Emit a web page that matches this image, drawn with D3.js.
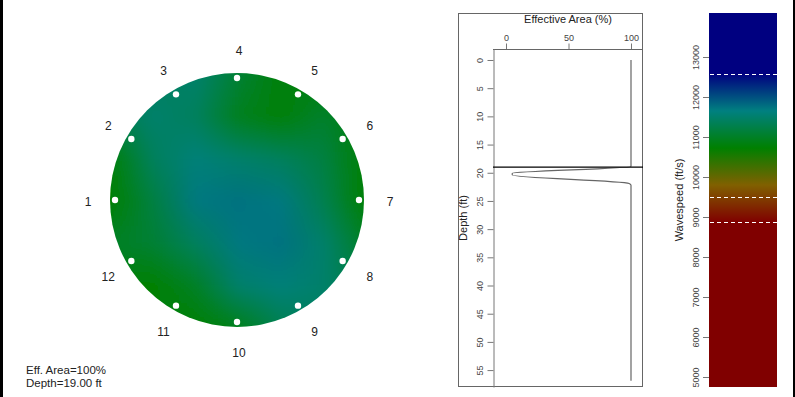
<!DOCTYPE html>
<meta charset="utf-8" />
<style>
  body {
    margin: 0px;
    background: #fff;
  }
  svg {
    display: block;
  }
  .tick text {
    font-family: "Liberation Sans", Arial, sans-serif;
    font-size: 9px;
    fill: #444;
  }
  .tick line,
  .domain {
    stroke: #777;
  }
</style>
<body>
<script src="https://d3js.org/d3.v7.min.js"></script>
<script>
  var width = 795,
    height = 397;

  // wavespeed field over the pipe cross-section (ft/s), rows top→bottom, cols left→right
  var field = [
    [11300, 11400, 11500, 11100, 10800, 10800, 10750],
    [11300, 11500, 11400, 10950, 10800, 11050, 10800],
    [10800, 11400, 11600, 11500, 11400, 11200, 10750],
    [10750, 11200, 11700, 11750, 11700, 11300, 10750],
    [11000, 11100, 11400, 11700, 11750, 11500, 11000],
    [10750, 10750, 11000, 11500, 11600, 11500, 11200],
    [10750, 10750, 10750, 10900, 11300, 11400, 11300],
  ];

  // sensor numbers, counter-clockwise from left, 30° apart
  var sensors = [1, 2, 3, 4, 5, 6, 7, 8, 9, 10, 11, 12];

  // effective area profile
  var depths = [0, 18.9, 20.1, 20.4, 21.9, 22.2, 56.9];
  var effArea = [100, 100, 5, 5, 98.5, 100, 100];
  var currentDepth = 19;

  var colorStops = [8875, 9800, 10725, 11650, 12575];
  var colorRange = ["#800000", "#806000", "#008000", "#008080", "#000080"];
  var speedTicks = [5000, 6000, 7000, 8000, 9000, 10000, 11000, 12000, 13000];
  var thresholds = [12575, 9500, 8875];
  var depthTicks = [0, 5, 10, 15, 20, 25, 30, 35, 40, 45, 50, 55];
  var areaTicks = [0, 50, 100];

  var color = d3.scaleLinear().domain(colorStops).range(colorRange);

  var svg = d3
    .select("body")
    .append("svg")
    .attr("width", width)
    .attr("height", height);

  var defs = svg.append("defs");

  // side borders
  svg.append("rect").attr("x", 0).attr("y", 0).attr("width", 3).attr("height", height);
  svg.append("rect").attr("x", 793).attr("y", 0).attr("width", 2).attr("height", height);

  // ---------- cross-section ----------
  var cx = 237,
    cy = 200,
    R = 127;

  defs
    .append("clipPath")
    .attr("id", "pipe")
    .append("circle")
    .attr("cx", cx)
    .attr("cy", cy)
    .attr("r", R);

  var n = field.length;
  var gx = d3.scaleLinear().domain([0, n - 1]).range([cx - R, cx + R]);
  var gy = d3.scaleLinear().domain([0, n - 1]).range([cy - R, cy + R]);
  var cell = gx(1) - gx(0);

  // one pixel per grid value; the browser smooths it when scaled up
  var canvas = document.createElement("canvas");
  canvas.width = n;
  canvas.height = n;
  var ctx = canvas.getContext("2d");
  field.forEach(function (row, i) {
    row.forEach(function (v, j) {
      ctx.fillStyle = color(v);
      ctx.fillRect(j, i, 1, 1);
    });
  });

  var soft = defs.append("filter").attr("id", "soft");
  soft.append("feGaussianBlur").attr("stdDeviation", 6).attr("edgeMode", "duplicate");

  svg
    .append("g")
    .attr("clip-path", "url(#pipe)")
    .append("image")
    .attr("href", canvas.toDataURL())
    .attr("x", gx(0) - cell / 2)
    .attr("y", gy(0) - cell / 2)
    .attr("width", n * cell)
    .attr("height", n * cell)
    .attr("preserveAspectRatio", "none")
    .attr("filter", "url(#soft)");

  var angle = d3
    .scaleLinear()
    .domain([1, 13])
    .range([Math.PI, -Math.PI]);

  svg
    .append("g")
    .selectAll("circle")
    .data(sensors)
    .enter()
    .append("circle")
    .attr("cx", function (d) { return cx + 122 * Math.cos(angle(d)); })
    .attr("cy", function (d) { return cy - 122 * Math.sin(angle(d)); })
    .attr("r", 3.2)
    .attr("fill", "#fff");

  svg
    .append("g")
    .selectAll("text")
    .data(sensors)
    .enter()
    .append("text")
    .attr("x", function (d) { return cx + 2 + 151 * Math.cos(angle(d)); })
    .attr("y", function (d) { return cy + 1.5 - 151 * Math.sin(angle(d)); })
    .attr("text-anchor", "middle")
    .attr("dominant-baseline", "central")
    .style("font-family", "'Liberation Sans', Arial, sans-serif")
    .style("font-size", "12px")
    .style("fill", "#222")
    .text(function (d) { return d; });

  svg
    .append("text")
    .attr("x", 26)
    .attr("y", 374)
    .style("font-family", "'Liberation Sans', Arial, sans-serif")
    .style("font-size", "11.5px")
    .style("fill", "#222")
    .text("Eff. Area=100%");
  svg
    .append("text")
    .attr("x", 26)
    .attr("y", 387)
    .style("font-family", "'Liberation Sans', Arial, sans-serif")
    .style("font-size", "11.5px")
    .style("fill", "#222")
    .text("Depth=" + currentDepth.toFixed(2) + " ft");

  // ---------- effective area vs depth ----------
  var x = d3.scaleLinear().domain([-10.4, 109.6]).range([493, 643]);
  var y = d3.scaleLinear().domain([-1.95, 58]).range([49, 387]);

  svg
    .append("rect")
    .attr("x", 458.5)
    .attr("y", 13.5)
    .attr("width", 184)
    .attr("height", 373)
    .attr("fill", "none")
    .attr("stroke", "#666");

  var xAxis = svg
    .append("g")
    .attr("transform", "translate(0,49.5)")
    .call(d3.axisTop(x).tickValues(areaTicks).tickSize(6).tickSizeOuter(0));
  xAxis.select(".domain").remove();

  svg
    .append("line")
    .attr("x1", 493)
    .attr("x2", 643)
    .attr("y1", 49.5)
    .attr("y2", 49.5)
    .attr("stroke", "#666");

  var yAxis = svg
    .append("g")
    .attr("transform", "translate(493.5,0)")
    .call(d3.axisLeft(y).tickValues(depthTicks).tickSize(6).tickSizeOuter(0));
  yAxis.select(".domain").attr("stroke", "#666");
  yAxis
    .selectAll(".tick text")
    .attr("x", null)
    .attr("dy", null)
    .attr("text-anchor", "middle")
    .attr("dominant-baseline", "central")
    .attr("transform", "translate(-14,0) rotate(-90)");

  svg
    .append("text")
    .attr("x", 568)
    .attr("y", 23)
    .attr("text-anchor", "middle")
    .style("font-family", "'Liberation Sans', Arial, sans-serif")
    .style("font-size", "11px")
    .style("fill", "#222")
    .text("Effective Area (%)");

  svg
    .append("text")
    .attr("transform", "translate(467,218) rotate(-90)")
    .attr("text-anchor", "middle")
    .style("font-family", "'Liberation Sans', Arial, sans-serif")
    .style("font-size", "11px")
    .style("fill", "#222")
    .text("Depth (ft)");

  var profile = depths.map(function (d, k) { return [effArea[k], d]; });

  svg
    .append("path")
    .datum(profile)
    .attr("fill", "none")
    .attr("stroke", "#666")
    .attr("stroke-width", 1.2)
    .attr(
      "d",
      d3
        .line()
        .x(function (p) { return x(p[0]); })
        .y(function (p) { return y(p[1]); })
        .curve(d3.curveMonotoneY)
    );

  svg
    .append("line")
    .attr("x1", 493)
    .attr("x2", 643)
    .attr("y1", y(currentDepth))
    .attr("y2", y(currentDepth))
    .attr("stroke", "#000")
    .attr("stroke-width", 1.2);

  // ---------- wavespeed colour bar ----------
  var s = d3.scaleLinear().domain([4750, 14100]).range([387, 13]);

  var grad = defs
    .append("linearGradient")
    .attr("id", "bar")
    .attr("gradientUnits", "userSpaceOnUse")
    .attr("x1", 0)
    .attr("x2", 0)
    .attr("y1", s(colorStops[0]))
    .attr("y2", s(colorStops[colorStops.length - 1]));
  grad
    .selectAll("stop")
    .data(colorStops)
    .enter()
    .append("stop")
    .attr("offset", function (d) {
      return (d - colorStops[0]) / (colorStops[colorStops.length - 1] - colorStops[0]);
    })
    .attr("stop-color", function (d) { return color(d); });

  svg
    .append("rect")
    .attr("x", 709)
    .attr("y", 13)
    .attr("width", 68)
    .attr("height", 374)
    .attr("fill", "url(#bar)");

  svg
    .append("g")
    .selectAll("line")
    .data(thresholds)
    .enter()
    .append("line")
    .attr("x1", 710)
    .attr("x2", 777)
    .attr("y1", function (d) { return Math.round(s(d)) + 0.5; })
    .attr("y2", function (d) { return Math.round(s(d)) + 0.5; })
    .attr("stroke", "#fff")
    .attr("stroke-dasharray", "4,3");

  var sAxis = svg
    .append("g")
    .attr("transform", "translate(709,0)")
    .call(d3.axisLeft(s).tickValues(speedTicks).tickSize(6).tickSizeOuter(0).tickFormat(d3.format("d")));
  sAxis.select(".domain").remove();
  sAxis
    .selectAll(".tick text")
    .attr("x", null)
    .attr("dy", null)
    .attr("text-anchor", "middle")
    .attr("dominant-baseline", "central")
    .attr("transform", "translate(-13,0) rotate(-90)");

  svg
    .append("text")
    .attr("transform", "translate(683,200) rotate(-90)")
    .attr("text-anchor", "middle")
    .style("font-family", "'Liberation Sans', Arial, sans-serif")
    .style("font-size", "11px")
    .style("fill", "#222")
    .text("Wavespeed (ft/s)");
</script>
</body>
